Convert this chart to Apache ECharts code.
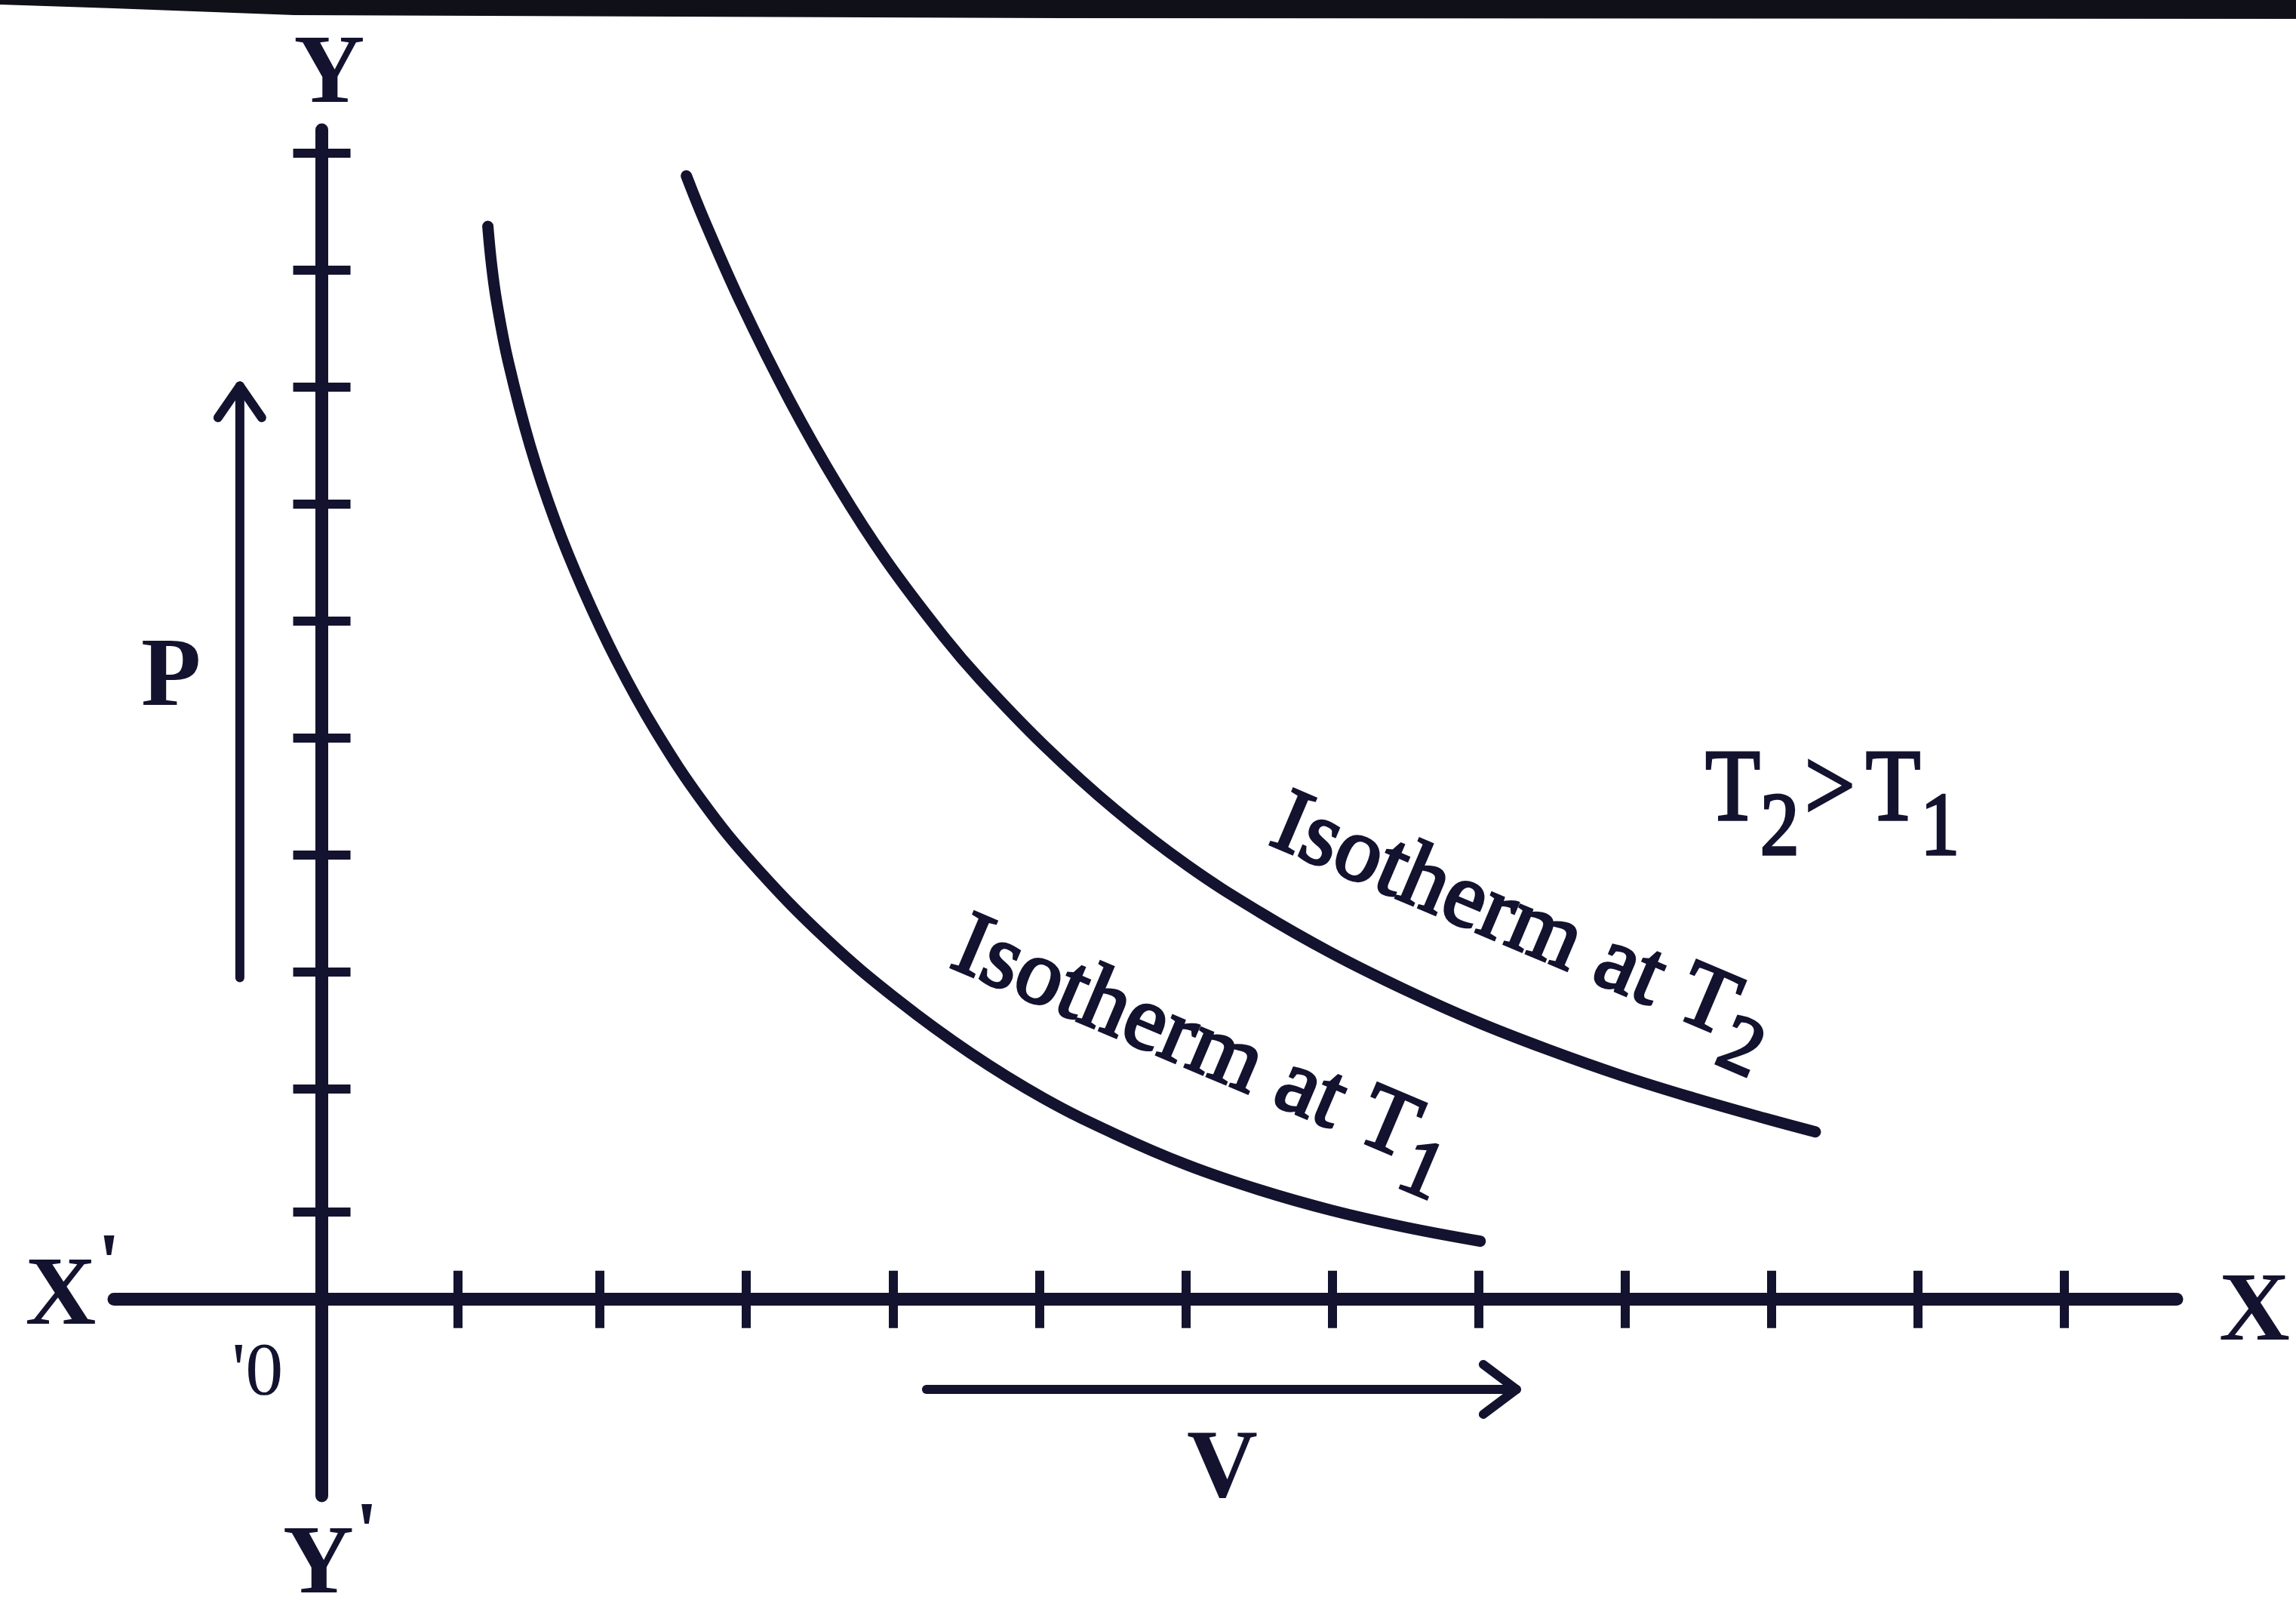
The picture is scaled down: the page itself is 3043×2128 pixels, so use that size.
<!DOCTYPE html>
<html>
<head>
<meta charset="utf-8">
<style>
  html, body { margin: 0; padding: 0; background: #ffffff; }
  #chart { width: 3043px; height: 2128px; }
</style>
<script src="https://cdn.jsdelivr.net/npm/echarts@6/dist/echarts.min.js"></script>
</head>
<body>
<div id="chart"></div>
<script>
// Boyle's law isotherms: pressure P against volume V at two temperatures.
const isothermT1V = [1.134, 1.160, 1.196, 1.273, 1.423, 1.593, 1.784, 2.015, 2.278, 2.608, 2.954, 3.448, 3.938, 4.433, 4.928, 5.418, 5.912, 6.407, 6.897, 7.392, 7.912];
const isothermT1P = [9.174, 8.839, 8.516, 8.019, 7.297, 6.658, 6.071, 5.458, 4.865, 4.242, 3.710, 3.077, 2.555, 2.103, 1.721, 1.413, 1.148, 0.935, 0.761, 0.619, 0.497];
const isothermT2V = [2.490, 2.608, 2.871, 3.196, 3.526, 3.856, 4.253, 4.500, 4.928, 5.418, 5.912, 6.407, 6.897, 7.392, 7.887, 8.376, 8.871, 9.366, 9.856, 10.201];
const isothermT2P = [9.606, 9.239, 8.497, 7.684, 6.955, 6.316, 5.658, 5.297, 4.742, 4.187, 3.710, 3.310, 2.961, 2.652, 2.374, 2.135, 1.916, 1.723, 1.548, 1.432];

// Tick marks drawn along the V and P axes
const volumeTicks = [0.93, 1.9, 2.9, 3.9, 4.9, 5.9, 6.9, 7.9, 8.9, 9.9, 10.9, 11.9];
const pressureTicks = [0.75, 1.8, 2.8, 3.8, 4.8, 5.8, 6.8, 7.8, 8.8, 9.8];

// Curve names and the temperature subscripts used in their labels
const curveNames = ['Isotherm at T1', 'Isotherm at T2'];
const curveLabelBase = 'Isotherm at T';
const tempSubscripts = ['1', '2'];

const ink = '#13132f';
const serif = '"Liberation Serif", "DejaVu Serif", serif';

const xRange = [-1.42, 12.67];
const yRange = [-1.68, 10.0];

function zip(a, b) { return a.map((v, i) => [v, b[i]]); }

const chart = echarts.init(document.getElementById('chart'), null, { renderer: 'canvas' });

const tickStyle = { color: ink, width: 12 };
const axisLineStyle = { color: ink, width: 17 };
const curveStyle = { color: ink, width: 15, cap: 'round', join: 'round' };

const option = {
  backgroundColor: '#ffffff',
  animation: false,
  grid: { left: 151, right: 158, top: 172, bottom: 146, containLabel: false, outerBoundsMode: 'none' },
  xAxis: [
    {
      type: 'value', position: 'bottom', min: xRange[0], max: xRange[1],
      axisLine: { show: true, onZero: true, onZeroAxisIndex: 0, lineStyle: axisLineStyle },
      axisTick: { show: true, inside: false, length: 38, customValues: volumeTicks, lineStyle: tickStyle },
      axisLabel: { show: false }, splitLine: { show: false }
    },
    {
      type: 'value', position: 'top', min: xRange[0], max: xRange[1],
      axisLine: { show: false, onZero: true, onZeroAxisIndex: 0 },
      axisTick: { show: true, inside: false, length: 38, customValues: volumeTicks, lineStyle: tickStyle },
      axisLabel: { show: false }, splitLine: { show: false }
    }
  ],
  yAxis: [
    {
      type: 'value', position: 'left', min: yRange[0], max: yRange[1],
      axisLine: { show: true, onZero: true, onZeroAxisIndex: 0, lineStyle: axisLineStyle },
      axisTick: { show: true, inside: false, length: 38, customValues: pressureTicks, lineStyle: tickStyle },
      axisLabel: { show: false }, splitLine: { show: false },
      name: 'Y', nameLocation: 'end', nameGap: 6, nameMoveOverlap: false,
      nameTextStyle: { fontFamily: serif, fontWeight: 'bold', fontSize: 130, color: ink, padding: [0, 0, 0, 20] }
    },
    {
      type: 'value', position: 'right', min: yRange[0], max: yRange[1],
      axisLine: { show: false, onZero: true, onZeroAxisIndex: 0 },
      axisTick: { show: true, inside: false, length: 38, customValues: pressureTicks, lineStyle: tickStyle },
      axisLabel: { show: false }, splitLine: { show: false }
    }
  ],
  series: [
    {
      name: curveNames[0], type: 'line', xAxisIndex: 0, yAxisIndex: 0,
      data: zip(isothermT1V, isothermT1P), showSymbol: false, smooth: 0.4, z: 5,
      lineStyle: curveStyle
    },
    {
      name: curveNames[1], type: 'line', xAxisIndex: 0, yAxisIndex: 0,
      data: zip(isothermT2V, isothermT2P), showSymbol: false, smooth: 0.4, z: 5,
      lineStyle: curveStyle
    }
  ]
};

chart.setOption(option);

// Annotation anchors, in the chart's own V/P units
const pArrow = { from: [-0.56, 2.75], to: [-0.56, 7.81] };
const vArrow = { from: [4.13, -0.77], to: [8.16, -0.77] };
const pLabelAt = [-1.03, 5.30];
const vLabelAt = [6.15, -1.47];
const xLabelAt = [13.2, -0.13];
const originLabelAt = [-0.44, -0.64];
const xPrimeLabelAt = [-1.70, 0.01];
const yPrimeLabelAt = [0.06, -2.29];
const curveLabelAt = [[4.34, 3.04], [6.52, 4.09]];
const curveLabelTilt = [23, 23];
const compareLabelAt = [9.45, 4.33];

const toPx = (pt) => chart.convertToPixel({ xAxisIndex: 0, yAxisIndex: 0 }, pt);

function arrowGroup(a, vertical) {
  const p0 = toPx(a.from), p1 = toPx(a.to);
  const head = vertical
    ? [[p1[0] - 29, p1[1] + 42], [p1[0], p1[1]], [p1[0] + 29, p1[1] + 42]]
    : [[p1[0] - 44, p1[1] - 33], [p1[0], p1[1]], [p1[0] - 44, p1[1] + 33]];
  const st = { stroke: ink, lineWidth: 12, lineCap: 'round', lineJoin: 'round', fill: null };
  return [
    { type: 'line', shape: { x1: p0[0], y1: p0[1], x2: p1[0], y2: p1[1] }, style: st, z: 10 },
    { type: 'polyline', shape: { points: head }, style: st, z: 10 }
  ];
}

function plainText(pt, text, size, weight) {
  const p = toPx(pt);
  return {
    type: 'text', x: p[0], y: p[1], z: 10,
    style: {
      text: text, fill: ink, fontFamily: serif, fontSize: size, fontWeight: weight,
      align: 'center', verticalAlign: 'middle'
    }
  };
}

function primeText(pt, letter) {
  const p = toPx(pt);
  return {
    type: 'text', x: p[0], y: p[1], z: 10,
    style: {
      text: '{m|' + letter + '}{p|\'}', align: 'center', verticalAlign: 'middle',
      rich: {
        m: { fontFamily: serif, fontSize: 130, fontWeight: 'bold', fill: ink },
        p: { fontFamily: serif, fontSize: 110, fontWeight: 'bold', fill: ink, padding: [0, 0, 80, 2] }
      }
    }
  };
}

const subRich = (size, subSize, drop) => ({
  m: { fontFamily: serif, fontSize: size, fill: ink, stroke: ink, lineWidth: 3.5 },
  s: { fontFamily: serif, fontSize: subSize, fill: ink, stroke: ink, lineWidth: 3.5, padding: [drop, 0, 0, 0] },
  g: { fontFamily: serif, fontSize: size, fill: ink, stroke: ink, lineWidth: 3.5, padding: [0, 16, 0, 8] }
});

const graphics = [];
// page edge rule along the top
graphics.push({
  type: 'polygon', z: 1,
  shape: { points: [[0, 0], [3043, 0], [3043, 25], [1400, 24], [390, 20], [150, 11], [0, 6]] },
  style: { fill: '#101018' }
});
graphics.push(...arrowGroup(pArrow, true));
graphics.push(...arrowGroup(vArrow, false));
graphics.push(plainText(pLabelAt, 'P', 130, 'bold'));
graphics.push(plainText(vLabelAt, 'V', 130, 'bold'));
graphics.push(plainText(xLabelAt, 'X', 130, 'bold'));
graphics.push(plainText(originLabelAt, '\'0', 100, 'normal'));
graphics.push(primeText(xPrimeLabelAt, 'X'));
graphics.push(primeText(yPrimeLabelAt, 'Y'));

// curve labels, tilted to run alongside each isotherm
curveLabelAt.forEach((pt, i) => {
  const p = toPx(pt);
  graphics.push({
    type: 'text', x: p[0], y: p[1], z: 10,
    rotation: -curveLabelTilt[i] * Math.PI / 180,
    style: {
      text: '{m|' + curveLabelBase + '}{s|' + tempSubscripts[i] + '}',
      align: 'left', verticalAlign: 'middle', rich: subRich(122, 108, 80)
    }
  });
});

{
  const p = toPx(compareLabelAt);
  graphics.push({
    type: 'text', x: p[0], y: p[1], z: 10, scaleX: 0.88,
    style: {
      text: '{m|T}{s|' + tempSubscripts[1] + '}{g|>}{m|T}{s|' + tempSubscripts[0] + '}',
      align: 'left', verticalAlign: 'middle', rich: subRich(135, 118, 100)
    }
  });
}

chart.setOption({ graphic: graphics });
</script>
</body>
</html>
